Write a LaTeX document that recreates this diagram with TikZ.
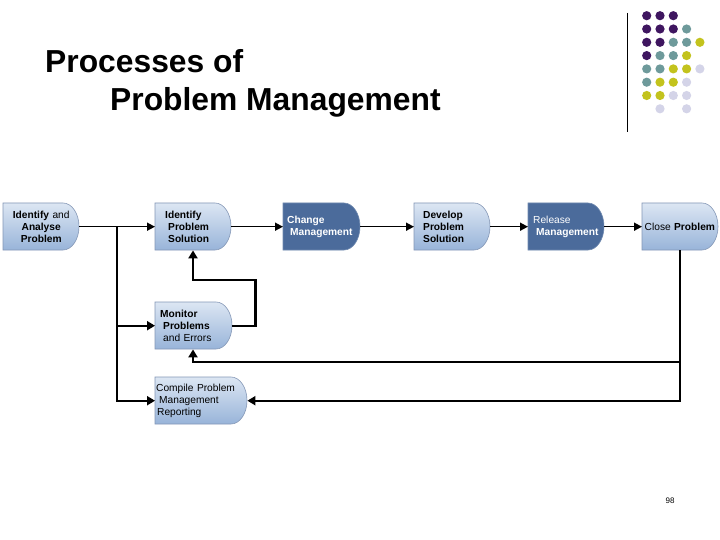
\documentclass[tikz,border=0pt]{standalone}
\usepackage{fontspec}
\setmainfont{Liberation Sans}
\usetikzlibrary{calc,arrows.meta}

\definecolor{boxtop}{HTML}{DCE6F3}
\definecolor{boxbot}{HTML}{98B4D9}
\definecolor{boxline}{HTML}{8497B6}
\definecolor{boxdark}{HTML}{4B6B9B}
\definecolor{dotpurple}{HTML}{3F1660}
\definecolor{dotteal}{HTML}{6E9A9B}
\definecolor{dotyellow}{HTML}{C3C31D}
\definecolor{dotlav}{HTML}{D4D4E8}

\tikzset{
  lightbox/.style={draw=boxline, line width=0.6pt, top color=boxtop, bottom color=boxbot},
  darkbox/.style={draw=boxdark!80!white, line width=0.6pt, fill=boxdark},
  boxtext/.style={font=\fontsize{10.2}{12}\selectfont, align=left, inner ysep=0pt},
  flow/.style={line width=1.6pt, -{Triangle[length=8pt,width=8pt]}},
  loop/.style={line width=2.2pt, -{Triangle[length=8pt,width=9pt]}},
}

% #1 name, #2 style, #3 x, #4 top y, #5 width, #6 text options, #7 text
\newcommand{\procbox}[7]{%
  \path[#2] (#3,#4) -- ++(#5-16,0) arc[start angle=-90, end angle=90, x radius=16, y radius=23.5] -- ++(-#5+16,0) -- cycle;
  \node[boxtext, minimum width=#5, minimum height=47, anchor=north west, #6] (#1) at (#3,#4) {#7};
}

\begin{document}
\begin{tikzpicture}[x=1pt, y=-1pt]
  \fill[white] (0,0) rectangle (720,540);
  \useasboundingbox (0,0) rectangle (720,540);

  % title
  \node[anchor=base west, inner sep=0pt, font=\fontsize{31.8}{32}\selectfont\bfseries] (title1) at (45,73) {Processes of};
  \node[anchor=base west, inner sep=0pt, font=\fontsize{31.8}{32}\selectfont\bfseries] (title2) at (110,111) {Problem Management};

  % decoration
  \draw[line width=0.8pt] (627,13) -- (627,132);
  \foreach \c/\r/\col in {0/0/dotpurple,1/0/dotpurple,2/0/dotpurple,
      0/1/dotpurple,1/1/dotpurple,2/1/dotpurple,3/1/dotteal,
      0/2/dotpurple,1/2/dotpurple,2/2/dotteal,3/2/dotteal,4/2/dotyellow,
      0/3/dotpurple,1/3/dotteal,2/3/dotteal,3/3/dotyellow,
      0/4/dotteal,1/4/dotteal,2/4/dotyellow,3/4/dotyellow,4/4/dotlav,
      0/5/dotteal,1/5/dotyellow,2/5/dotyellow,3/5/dotlav,
      0/6/dotyellow,1/6/dotyellow,2/6/dotlav,3/6/dotlav,
      1/7/dotlav,3/7/dotlav}
    \fill[\col] (646.7+13.3*\c, 15.7+13.3*\r) circle (4.6);

  % process boxes
  \procbox{ana}{lightbox}{3}{203}{76}{align=center, inner xsep=0pt, text width=76}{\textbf{Identify} and\\\textbf{Analyse}\\\textbf{Problem}}
  \procbox{ips}{lightbox}{155}{203}{76}{inner xsep=10pt, text width=56}{\textbf{Identify}\\\hspace*{3pt}\textbf{Problem}\\\hspace*{3pt}\textbf{Solution}}
  \procbox{chg}{darkbox}{283}{203}{77}{inner xsep=4pt, text width=69}{\color{white}\textbf{Change}\\\hspace*{3pt}\textbf{Management}}
  \procbox{dev}{lightbox}{414}{203}{76}{inner xsep=9pt, text width=58}{\textbf{Develop}\\\textbf{Problem}\\\textbf{Solution}}
  \procbox{rel}{darkbox}{528}{203}{76}{inner xsep=5pt, text width=66}{\color{white}Release\\\hspace*{3pt}\textbf{Management}}
  \procbox{cls}{lightbox}{642}{203}{76}{inner xsep=2.5pt, text width=71}{Close \textbf{Problem}}
  \procbox{mon}{lightbox}{155}{302}{77}{inner xsep=5pt, text width=67}{\textbf{Monitor}\\\hspace*{3pt}\textbf{Problems}\\\hspace*{3pt}and Errors}
  \procbox{rep}{lightbox}{155}{377}{92}{inner xsep=1pt, text width=90}{Compile Problem\\\hspace*{3pt}Management\\\hspace*{1pt}Reporting}

  % main flow
  \draw[flow] (ana.east) -- (ips.west);
  \draw[flow] (ips.east) -- (chg.west);
  \draw[flow] (chg.east) -- (dev.west);
  \draw[flow] (dev.east) -- (rel.west);
  \draw[flow] (rel.east) -- (cls.west);

  % branches
  \coordinate (sp) at (117,226.5);
  \draw[loop] (sp) |- (mon.west);
  \draw[loop] (sp) |- (rep.west);

  \coordinate (lp) at (193,280);
  \draw[loop] (mon.east) -- ++(23,0) |- (lp) -- (lp |- ips.south);

  \coordinate (ml) at (193,362);
  \draw[loop] (cls.south) |- (rep.east);
  \draw[loop] (cls.south |- ml) -- (ml) -- (ml |- mon.south);

  % page number
  \node[font=\fontsize{8}{8}\selectfont] (page) at (670,501) {98};
\end{tikzpicture}
\end{document}
